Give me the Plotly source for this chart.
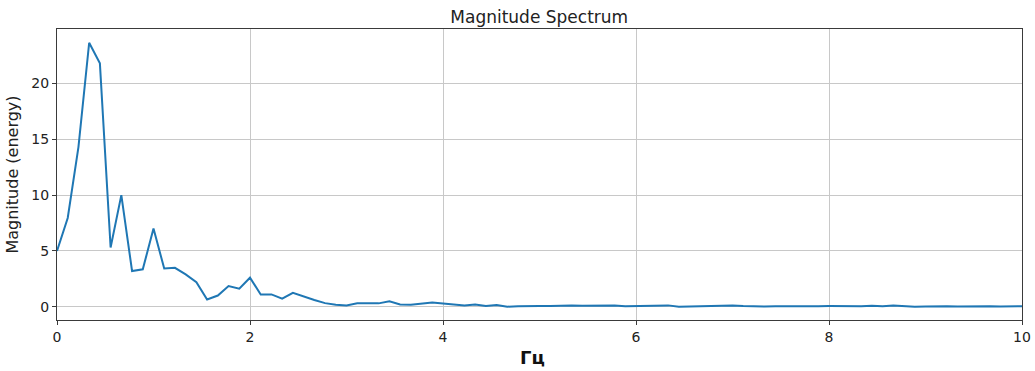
import plotly.graph_objects as go

# Frequency bins (Hz): 91 bins from 0 to 10 Hz, step 1/9 Hz
freq_step = 1 / 9
n_bins = 91
freqs = [i * freq_step for i in range(n_bins)]

# Spectrum magnitudes per bin
magnitude = [
    5.0, 7.95, 14.3, 23.65, 21.8, 5.3, 10.0, 3.2, 3.35, 7.0,
    3.42, 3.48, 2.9, 2.2, 0.65, 1.0, 1.85, 1.62, 2.6, 1.1,
    1.1, 0.72, 1.25, 0.9, 0.6, 0.32, 0.17, 0.12, 0.3, 0.3,
    0.3, 0.48, 0.2, 0.18, 0.25, 0.38, 0.28, 0.22, 0.1, 0.2,
    0.06, 0.15, 0.0, 0.05, 0.08, 0.07, 0.06, 0.1, 0.12, 0.08,
    0.1, 0.12, 0.1, 0.04, 0.06, 0.08, 0.06, 0.12, 0.0, 0.02,
    0.06, 0.05, 0.07, 0.12, 0.06, 0.03, 0.02, 0.04, 0.03, 0.05,
    0.03, 0.05, 0.06, 0.04, 0.02, 0.04, 0.08, 0.05, 0.1, 0.06,
    0.0, 0.03, 0.06, 0.05, 0.03, 0.04, 0.07, 0.05, 0.02, 0.04,
    0.04,
]

x_ticks = [0, 2, 4, 6, 8, 10]
y_ticks = [0, 5, 10, 15, 20]

font_family = "DejaVu Sans"
spine = "#3a3a3a"
grid = "#c8c8c8"

fig = go.Figure()
fig.add_trace(go.Scatter(
    x=freqs, y=magnitude, mode="lines",
    line=dict(color="#1f77b4", width=2),
    showlegend=False, hoverinfo="x+y",
))

fig.update_layout(
    width=1035, height=371,
    margin=dict(l=57, r=13, t=29, b=51),
    paper_bgcolor="white", plot_bgcolor="white",
    font=dict(family=font_family, size=14, color="#222"),
    title=dict(text="Magnitude Spectrum", x=0.521, xanchor="center",
               y=0.955, yanchor="middle",
               font=dict(family=font_family, size=17, color="#222")),
    xaxis=dict(
        range=[0, 10], tickvals=x_ticks, ticks="outside", ticklen=4,
        tickcolor=spine, showline=True, linecolor=spine, linewidth=1.3,
        mirror=True, showgrid=True, gridcolor=grid, gridwidth=1,
        zeroline=False, tickfont=dict(size=14), automargin=False,
    ),
    yaxis=dict(
        range=[-1.19, 24.88], tickvals=y_ticks, ticks="outside", ticklen=4,
        tickcolor=spine, showline=True, linecolor=spine, linewidth=1.3,
        mirror=True, showgrid=True, gridcolor=grid, gridwidth=1,
        zeroline=False, tickfont=dict(size=14), automargin=False,
        title=dict(text="Magnitude (energy)", standoff=8,
                   font=dict(size=16)),
    ),
)

# Frequency axis label
fig.add_annotation(
    text="<b>Гц</b>", xref="paper", yref="paper", x=0.4925, y=-0.128,
    xanchor="center", yanchor="middle", showarrow=False,
    font=dict(family=font_family, size=18, color="#111"),
)

fig.write_html("out.html")
